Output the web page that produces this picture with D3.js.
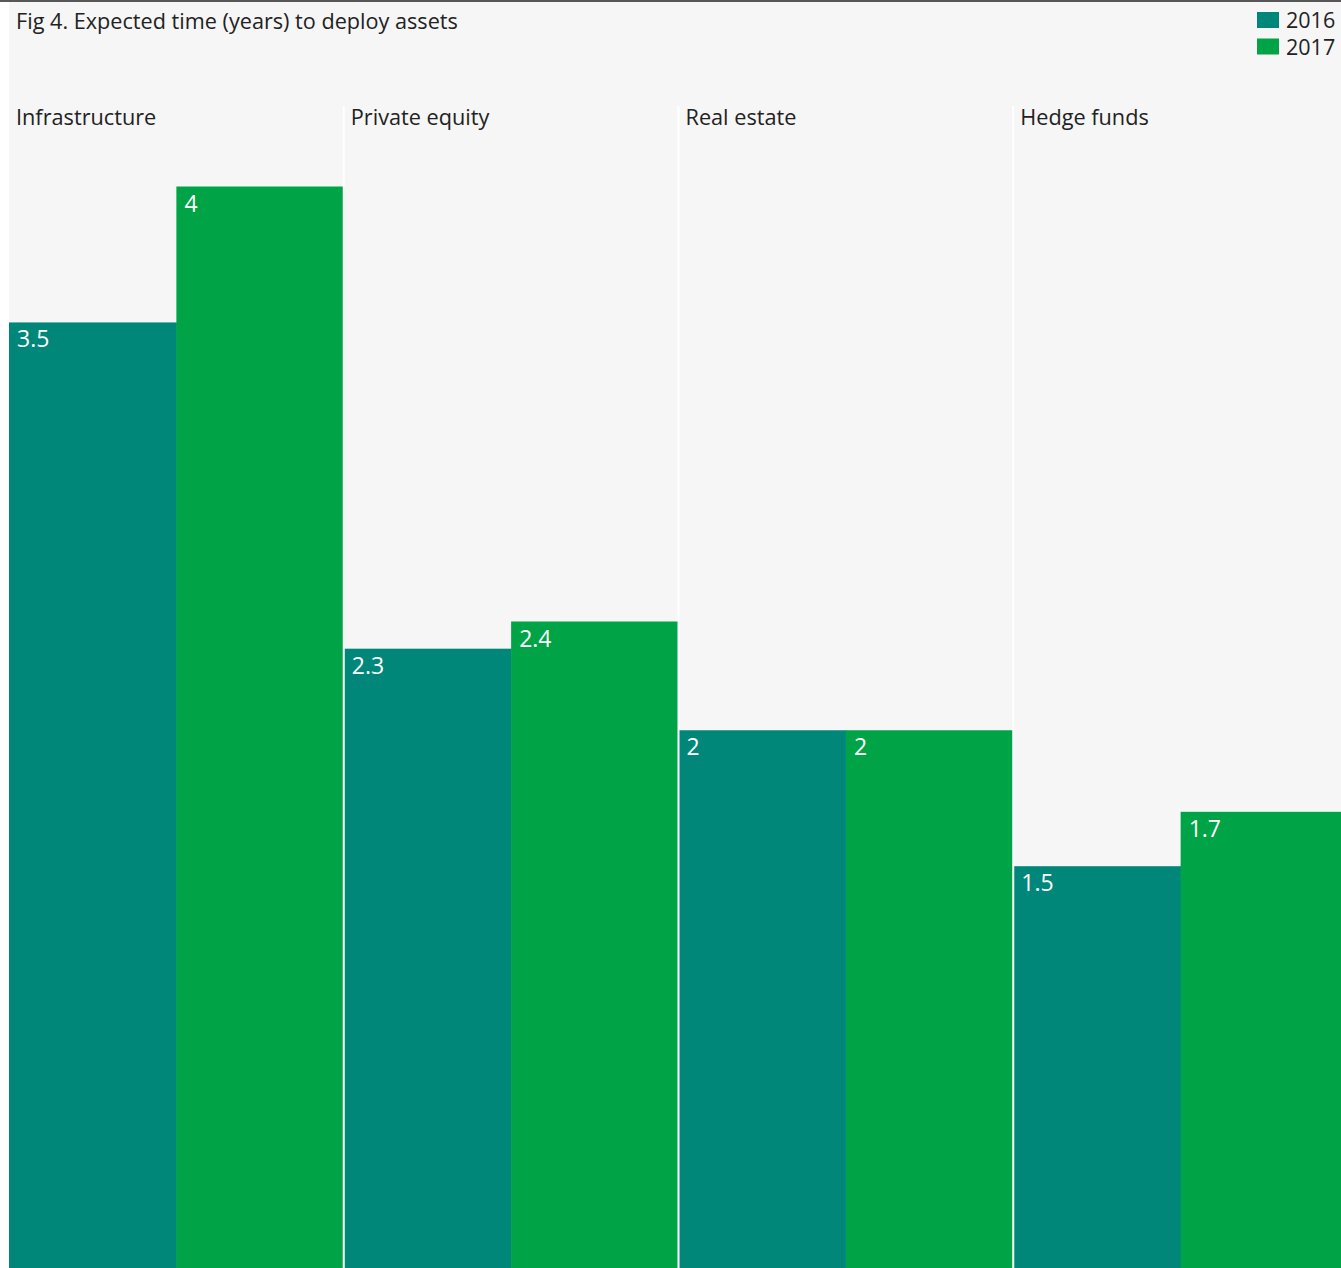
<!DOCTYPE html>
<html><head><meta charset="utf-8">
<script src="https://cdn.jsdelivr.net/npm/d3@7"></script>
<style>html,body{margin:0;padding:0;background:#fff;}svg{display:block;}</style>
</head><body>
<script>
const categories = ["Infrastructure", "Private equity", "Real estate", "Hedge funds"];
const seriesNames = ["2016", "2017"];
const values2016 = [3.5, 2.3, 2, 1.5];
const values2017 = [4, 2.4, 2, 1.7];
const valueLabels2016 = ["3.5", "2.3", "2", "1.5"];
const valueLabels2017 = ["4", "2.4", "2", "1.7"];
const title = "Fig 4. Expected time (years) to deploy assets";

const W = 1341, H = 1268;
const colors = {"2016": "#00877a", "2017": "#00a346"};
const font = "'Open Sans', sans-serif";

const svg = d3.select("body").append("svg").attr("width", W).attr("height", H);
svg.append("rect").attr("x", 9).attr("y", 0).attr("width", W - 9).attr("height", H).attr("fill", "#f6f6f6");
svg.append("line").attr("x1", 0).attr("x2", W).attr("y1", 1).attr("y2", 1).attr("stroke", "#222").attr("stroke-width", 1.5);

const x0 = d3.scaleBand().domain(categories).range([9, 1348]).padding(0);
const x1 = d3.scaleBand().domain(seriesNames).range([0, x0.bandwidth()]).padding(0);
const y = d3.scaleLinear().domain([0, 4]).range([1274, 186.5]);

const data = categories.map((c, i) => ({
  cat: c,
  vals: [
    {s: "2016", v: values2016[i], label: valueLabels2016[i]},
    {s: "2017", v: values2017[i], label: valueLabels2017[i]}
  ]
}));

const g = svg.selectAll("g.panel").data(data).enter().append("g")
  .attr("class", "panel").attr("transform", d => `translate(${x0(d.cat)},0)`);

g.selectAll("rect.bar").data(d => d.vals).enter().append("rect")
  .attr("class", "bar")
  .attr("x", d => x1(d.s))
  .attr("y", d => y(d.v))
  .attr("width", x1.bandwidth() + 0.5)
  .attr("height", d => y(0) - y(d.v))
  .attr("fill", d => colors[d.s]);

g.selectAll("text.val").data(d => d.vals).enter().append("text")
  .attr("class", "val")
  .attr("x", d => x1(d.s) + 8)
  .attr("y", d => y(d.v) + 25)
  .attr("fill", "#fff")
  .style("font-family", font).style("font-size", "23px")
  .text(d => d.label);

g.append("text")
  .attr("x", 7).attr("y", 125)
  .attr("fill", "#222")
  .style("font-family", font).style("font-size", "21.7px")
  .text(d => d.cat);

// separators
g.filter((d, i) => i > 0).append("line")
  .attr("x1", 0).attr("x2", 0).attr("y1", 106).attr("y2", H)
  .attr("stroke", "#fff").attr("stroke-width", 2);

svg.append("text").attr("x", 16).attr("y", 29)
  .attr("fill", "#222")
  .style("font-family", font).style("font-size", "21.65px")
  .text(title);

const leg = svg.append("g");
seriesNames.forEach((s, i) => {
  leg.append("rect").attr("x", 1257).attr("y", 12 + i * 26.5).attr("width", 22).attr("height", 16).attr("fill", colors[s]);
  leg.append("text").attr("x", 1286).attr("y", 28 + i * 26.5)
    .attr("fill", "#222").style("font-family", font).style("font-size", "21.5px").text(s);
});
</script>
</body></html>
